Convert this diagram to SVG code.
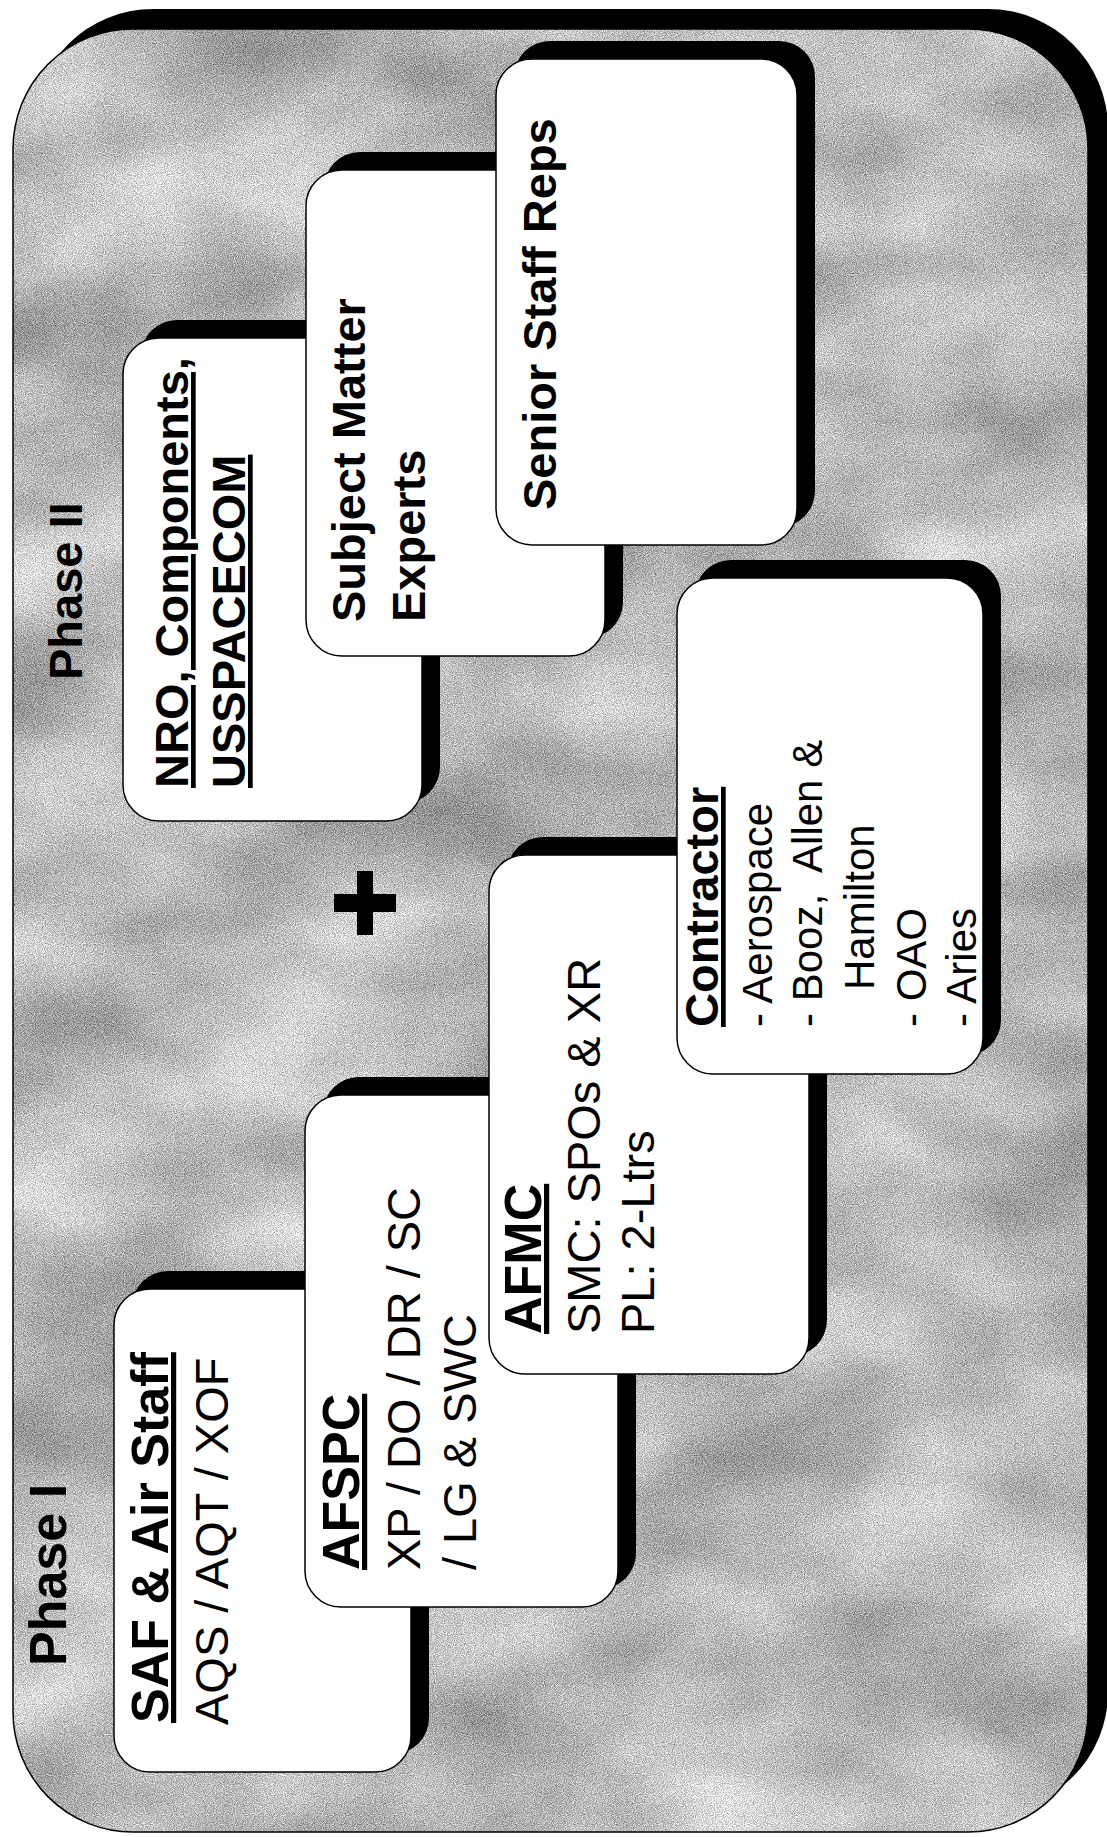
<svg xmlns="http://www.w3.org/2000/svg" width="1107" height="1837" viewBox="0 0 1107 1837">
  <defs>
    <filter id="grain" x="0" y="0" width="1" height="1" color-interpolation-filters="sRGB">
      <feTurbulence type="fractalNoise" baseFrequency="0.005 0.008" numOctaves="3" seed="11" result="low"/>
      <feTurbulence type="fractalNoise" baseFrequency="1.1" numOctaves="1" seed="2" result="high"/>
      <feColorMatrix in="low" type="matrix" values="0.45 0 0 0 0  0.45 0 0 0 0  0.45 0 0 0 0  0 0 0 0 1" result="lowg"/>
      <feColorMatrix in="high" type="matrix" values="0.9 0 0 0 0  0.9 0 0 0 0  0.9 0 0 0 0  0 0 0 0 1" result="highg"/>
      <feComposite in="lowg" in2="highg" operator="arithmetic" k1="0" k2="1" k3="1" k4="0.05" result="mix"/>
      <feComposite in="mix" in2="SourceGraphic" operator="in"/>
    </filter>
  </defs>
  <style>
    .shadow { fill: #000; }
    .box { fill: #fff; stroke: #000; stroke-width: 1.5; }
    .h { font-family: "Liberation Sans", Arial, sans-serif; font-weight: bold; text-decoration: underline; fill: #000; }
    .t { font-family: "Liberation Sans", Arial, sans-serif; fill: #000; }
    .p { font-family: "Liberation Sans", Arial, sans-serif; font-weight: bold; fill: #000; }
  </style>

  <rect width="1107" height="1837" fill="#fff"/>

  <g id="background">
    <rect x="33" y="9" width="1075" height="1803" rx="120" class="shadow"/>
    <rect x="13" y="29" width="1075" height="1803" rx="120" fill="#bdbdbd" filter="url(#grain)"/>
    <rect x="13" y="29" width="1075" height="1803" rx="120" fill="none" stroke="#000" stroke-width="1.5"/>
  </g>

  <g id="phase1-label">
    <text class="p" font-size="52" transform="translate(66,1666) rotate(-90)">Phase I</text>
  </g>
  <g id="phase2-label">
    <text class="p" font-size="47" transform="translate(82,680) rotate(-90)">Phase II</text>
  </g>

  <g id="plus">
    <rect x="357" y="871" width="16" height="64" fill="#000"/>
    <rect x="334" y="894" width="62" height="18" fill="#000"/>
  </g>

  <g id="node-saf">
    <rect x="132" y="1271" width="297" height="483" rx="36" class="shadow"/>
    <rect x="114" y="1289" width="297" height="483" rx="36" class="box"/>
    <text class="h" font-size="52" transform="translate(168,1723) rotate(-90)">SAF &amp; Air Staff</text>
    <text class="t" font-size="47" transform="translate(228,1725) rotate(-90)">AQS / AQT / XOF</text>
  </g>

  <g id="node-afspc">
    <rect x="323" y="1077" width="313" height="512" rx="36" class="shadow"/>
    <rect x="305" y="1095" width="313" height="512" rx="36" class="box"/>
    <text class="h" font-size="52" transform="translate(359,1570) rotate(-90)">AFSPC</text>
    <text class="t" font-size="47" transform="translate(420,1570) rotate(-90)">XP / DO / DR / SC</text>
    <text class="t" font-size="47" transform="translate(476,1570) rotate(-90)">/ LG &amp; SWC</text>
  </g>

  <g id="node-afmc">
    <rect x="507" y="837" width="320" height="519" rx="36" class="shadow"/>
    <rect x="489" y="855" width="320" height="519" rx="36" class="box"/>
    <text class="h" font-size="52" transform="translate(541,1334) rotate(-90)">AFMC</text>
    <text class="t" font-size="47" transform="translate(600,1334) rotate(-90)">SMC: SPOs &amp; XR</text>
    <text class="t" font-size="47" transform="translate(654,1334) rotate(-90)">PL: 2-Ltrs</text>
  </g>

  <g id="node-contractor">
    <rect x="695" y="560" width="306" height="496" rx="36" class="shadow"/>
    <rect x="677" y="578" width="306" height="496" rx="36" class="box"/>
    <text class="h" font-size="47" transform="translate(718,1027) rotate(-90)">Contractor</text>
    <text class="t" font-size="42" transform="translate(772,1027) rotate(-90)">- Aerospace</text>
    <text class="t" font-size="42" xml:space="preserve" transform="translate(822,1027) rotate(-90)">- Booz,  Allen &amp;</text>
    <text class="t" font-size="42" transform="translate(874,990) rotate(-90)">Hamilton</text>
    <text class="t" font-size="42" transform="translate(926,1027) rotate(-90)">- OAO</text>
    <text class="t" font-size="42" transform="translate(976,1027) rotate(-90)">- Aries</text>
  </g>

  <g id="node-nro">
    <rect x="141" y="320" width="299" height="483" rx="36" class="shadow"/>
    <rect x="123" y="338" width="299" height="483" rx="36" class="box"/>
    <text class="h" font-size="47" transform="translate(188,788) rotate(-90)">NRO, Components,</text>
    <text class="h" font-size="47" transform="translate(245,788) rotate(-90)">USSPACECOM</text>
  </g>

  <g id="node-sme">
    <rect x="324" y="152" width="299" height="486" rx="36" class="shadow"/>
    <rect x="306" y="170" width="299" height="486" rx="36" class="box"/>
    <text class="p" font-size="47" transform="translate(365,622) rotate(-90)">Subject Matter</text>
    <text class="p" font-size="47" transform="translate(425,622) rotate(-90)">Experts</text>
  </g>

  <g id="node-senior">
    <rect x="514" y="41" width="301" height="486" rx="36" class="shadow"/>
    <rect x="496" y="59" width="301" height="486" rx="36" class="box"/>
    <text class="p" font-size="47" transform="translate(556,510) rotate(-90)">Senior Staff Reps</text>
  </g>
</svg>
